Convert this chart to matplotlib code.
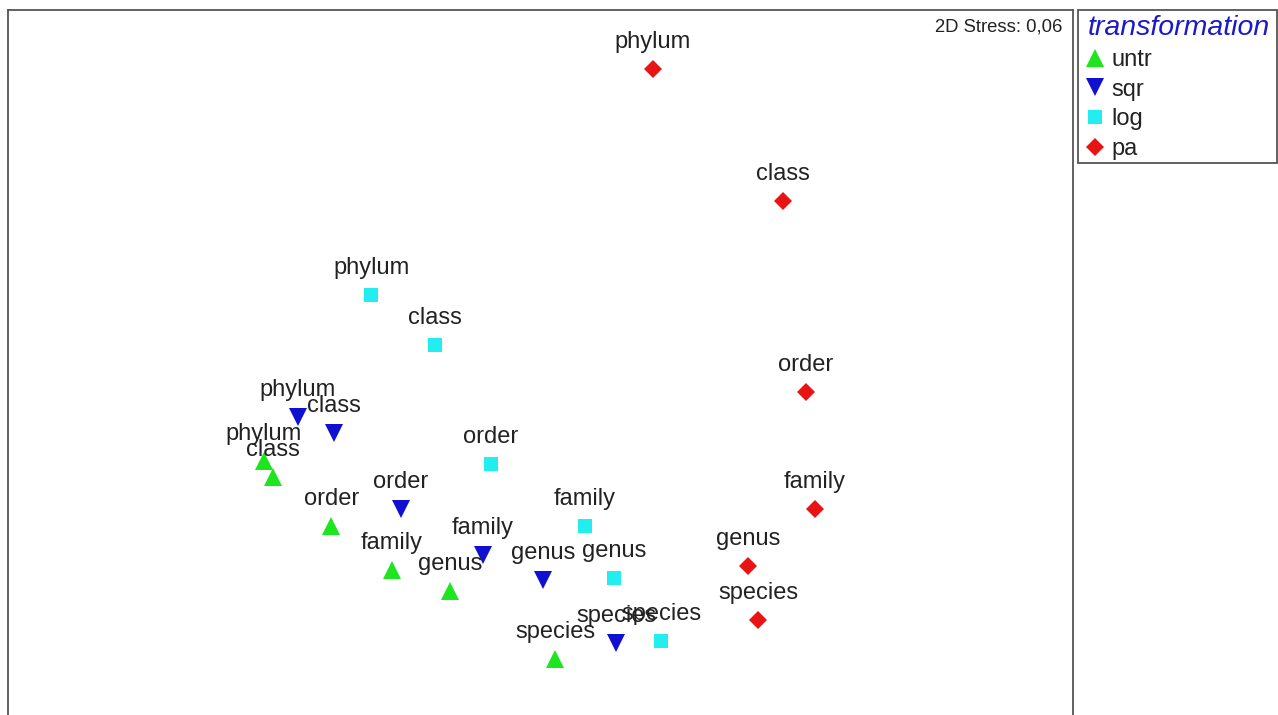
import matplotlib
matplotlib.use("Agg")
import matplotlib.pyplot as plt
from matplotlib.lines import Line2D
from matplotlib.patches import Rectangle

plt.rcParams['font.family'] = ['Liberation Sans', 'DejaVu Sans']

levels = ['phylum', 'class', 'order', 'family', 'genus', 'species']
transforms = ['untr', 'sqr', 'log', 'pa']

# NMDS coordinates per transformation, in level order
mds1 = {
    'untr': [-0.831, -0.804, -0.629, -0.446, -0.272, 0.044],
    'sqr':  [-0.729, -0.620, -0.419, -0.173, 0.008, 0.227],
    'log':  [-0.509, -0.317, -0.149, 0.134, 0.221, 0.362],
    'pa':   [0.338, 0.729, 0.798, 0.825, 0.624, 0.654],
}
mds2 = {
    'untr': [-0.155, -0.203, -0.351, -0.483, -0.546, -0.750],
    'sqr':  [-0.023, -0.071, -0.300, -0.438, -0.513, -0.702],
    'log':  [0.344, 0.193, -0.164, -0.351, -0.507, -0.696],
    'pa':   [1.023, 0.626, 0.052, -0.300, -0.471, -0.633],
}
stress = "0,06"

styles = {
    'untr': dict(marker='^', color='#1ee61e', ms=13),
    'sqr':  dict(marker='v', color='#1010d0', ms=13),
    'log':  dict(marker='s', color='#22eef0', ms=10.5),
    'pa':   dict(marker='D', color='#e81414', ms=9),
}

fig = plt.figure(figsize=(12.78, 7.15), dpi=100)
ax = fig.add_axes([8 / 1278, 0, 1065 / 1278, 705 / 715])
ax.set_xlim(-1.6, 1.6)
ax.set_ylim(-0.918, 1.2)
ax.set_xticks([])
ax.set_yticks([])
for side in ['left', 'top', 'right']:
    ax.spines[side].set_color('#555555')
    ax.spines[side].set_linewidth(1.3)
ax.spines['bottom'].set_visible(False)

for t in transforms:
    st = styles[t]
    ax.plot(mds1[t], mds2[t], linestyle='none', marker=st['marker'],
            markersize=st['ms'], color=st['color'], markeredgewidth=0,
            zorder=3)
    for lev, x, y in zip(levels, mds1[t], mds2[t]):
        ax.annotate(lev, (x, y), xytext=(0, 19.5), textcoords='offset points',
                    ha='center', va='center', fontsize=17, color='#222222',
                    zorder=4)

ax.text(0.9897, 0.976, "2D Stress: " + stress, transform=ax.transAxes,
        ha='right', va='center', fontsize=13.3, color='#222222')

# legend box drawn separately so the entries can sit with their own padding
fig.patches.append(Rectangle((1078 / 1278, 1 - 163 / 715), 199 / 1278, 153 / 715,
                             transform=fig.transFigure, fill=False,
                             edgecolor='#555555', linewidth=1.3))
handles = [Line2D([], [], linestyle='none', marker=styles[t]['marker'],
                  color=styles[t]['color'], markeredgewidth=0,
                  markersize=styles[t]['ms'], label=t)
           for t in transforms]
leg = fig.legend(handles=handles, loc='upper left',
                 bbox_to_anchor=(1088 / 1278, 1 - 15 / 715),
                 frameon=False, fontsize=17, title='transformation',
                 alignment='left',
                 title_fontproperties={'size': 20.5, 'style': 'italic'},
                 handlelength=0.6, handletextpad=0.4, labelspacing=0.33,
                 borderpad=0, borderaxespad=0)
leg.get_title().set_color('#1a1ac8')
for txt in leg.get_texts():
    txt.set_color('#222222')

fig.savefig('out.png', dpi=100)
